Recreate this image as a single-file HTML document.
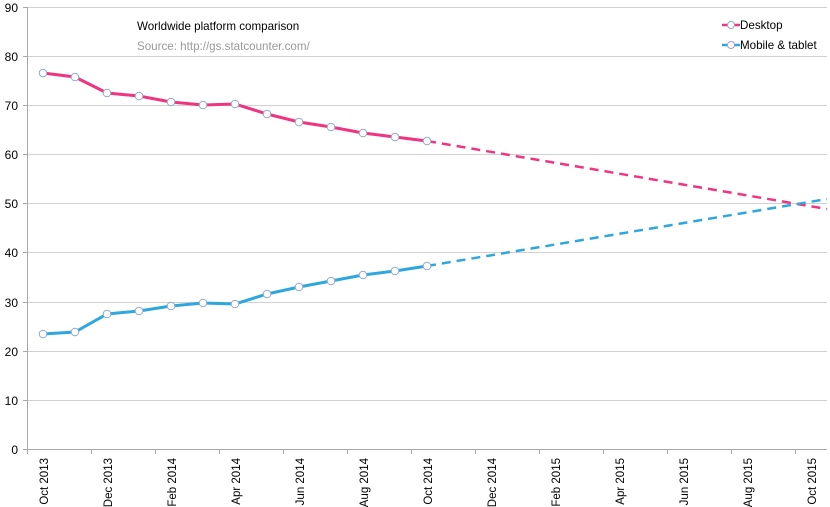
<!DOCTYPE html>
<html><head><style>body{margin:0;background:#fff}svg{display:block}text{font-family:"Liberation Sans",sans-serif}</style></head>
<body>
<svg width="830" height="507" viewBox="0 0 830 507" xmlns="http://www.w3.org/2000/svg">
<g stroke="#d0d0d0" stroke-width="1">
<line x1="27" y1="7.5" x2="827" y2="7.5"/><line x1="27" y1="56.5" x2="827" y2="56.5"/><line x1="27" y1="105.5" x2="827" y2="105.5"/><line x1="27" y1="154.5" x2="827" y2="154.5"/><line x1="27" y1="203.5" x2="827" y2="203.5"/><line x1="27" y1="252.5" x2="827" y2="252.5"/><line x1="27" y1="302.5" x2="827" y2="302.5"/><line x1="27" y1="351.5" x2="827" y2="351.5"/><line x1="27" y1="400.5" x2="827" y2="400.5"/>
</g>
<g stroke="#a8a8a8" stroke-width="1">
<line x1="27.5" y1="7" x2="27.5" y2="449"/><line x1="27" y1="449.5" x2="827" y2="449.5"/>
<line x1="23" y1="7.5" x2="27" y2="7.5"/><line x1="23" y1="56.5" x2="27" y2="56.5"/><line x1="23" y1="105.5" x2="27" y2="105.5"/><line x1="23" y1="154.5" x2="27" y2="154.5"/><line x1="23" y1="203.5" x2="27" y2="203.5"/><line x1="23" y1="252.5" x2="27" y2="252.5"/><line x1="23" y1="302.5" x2="27" y2="302.5"/><line x1="23" y1="351.5" x2="27" y2="351.5"/><line x1="23" y1="400.5" x2="27" y2="400.5"/><line x1="23" y1="449.5" x2="27" y2="449.5"/>
<line x1="27.5" y1="449" x2="27.5" y2="454"/><line x1="91.5" y1="449" x2="91.5" y2="454"/><line x1="155.5" y1="449" x2="155.5" y2="454"/><line x1="219.5" y1="449" x2="219.5" y2="454"/><line x1="283.5" y1="449" x2="283.5" y2="454"/><line x1="347.5" y1="449" x2="347.5" y2="454"/><line x1="411.5" y1="449" x2="411.5" y2="454"/><line x1="475.5" y1="449" x2="475.5" y2="454"/><line x1="539.5" y1="449" x2="539.5" y2="454"/><line x1="603.5" y1="449" x2="603.5" y2="454"/><line x1="667.5" y1="449" x2="667.5" y2="454"/><line x1="731.5" y1="449" x2="731.5" y2="454"/><line x1="795.5" y1="449" x2="795.5" y2="454"/>
</g>
<g font-size="12" fill="#000" text-anchor="end">
<text x="18" y="12">90</text><text x="18" y="61">80</text><text x="18" y="110">70</text><text x="18" y="159">60</text><text x="18" y="208">50</text><text x="18" y="257">40</text><text x="18" y="307">30</text><text x="18" y="356">20</text><text x="18" y="405">10</text><text x="18" y="454">0</text>
</g>
<g font-size="11.5" fill="#000" text-anchor="end">
<text transform="translate(48,458) rotate(-90)">Oct 2013</text>
<text transform="translate(112,458) rotate(-90)">Dec 2013</text>
<text transform="translate(176,458) rotate(-90)">Feb 2014</text>
<text transform="translate(240,458) rotate(-90)">Apr 2014</text>
<text transform="translate(304,458) rotate(-90)">Jun 2014</text>
<text transform="translate(368,458) rotate(-90)">Aug 2014</text>
<text transform="translate(432,458) rotate(-90)">Oct 2014</text>
<text transform="translate(496,458) rotate(-90)">Dec 2014</text>
<text transform="translate(560,458) rotate(-90)">Feb 2015</text>
<text transform="translate(624,458) rotate(-90)">Apr 2015</text>
<text transform="translate(688,458) rotate(-90)">Jun 2015</text>
<text transform="translate(752,458) rotate(-90)">Aug 2015</text>
<text transform="translate(816,458) rotate(-90)">Oct 2015</text>
</g>
<text x="137" y="30" font-size="11.6" fill="#000">Worldwide platform comparison</text>
<text x="137" y="50" font-size="11.6" fill="#999">Source: http://gs.statcounter.com/</text>
<line x1="427" y1="141" x2="827" y2="209" stroke="#f0347f" stroke-width="2.5" stroke-dasharray="9,6"/>
<line x1="427" y1="266" x2="827" y2="199" stroke="#2ea7df" stroke-width="2.5" stroke-dasharray="9,6"/>
<polyline fill="none" stroke="#f0347f" stroke-width="3" points="43,73 75,77 107,93 139,96 171,102 203,105 235,104 267,114 299,122 331,127 363,133 395,137 427,141"/>
<polyline fill="none" stroke="#2ea7df" stroke-width="3" points="43,334 75,332 107,314 139,311 171,306 203,303 235,304 267,294 299,287 331,281 363,275 395,271 427,266"/>
<g fill="#fff" stroke="#8fa8cf" stroke-width="1">
<circle cx="43" cy="73" r="3.8"/><circle cx="75" cy="77" r="3.8"/><circle cx="107" cy="93" r="3.8"/><circle cx="139" cy="96" r="3.8"/><circle cx="171" cy="102" r="3.8"/><circle cx="203" cy="105" r="3.8"/><circle cx="235" cy="104" r="3.8"/><circle cx="267" cy="114" r="3.8"/><circle cx="299" cy="122" r="3.8"/><circle cx="331" cy="127" r="3.8"/><circle cx="363" cy="133" r="3.8"/><circle cx="395" cy="137" r="3.8"/><circle cx="427" cy="141" r="3.8"/>
<circle cx="43" cy="334" r="3.8"/><circle cx="75" cy="332" r="3.8"/><circle cx="107" cy="314" r="3.8"/><circle cx="139" cy="311" r="3.8"/><circle cx="171" cy="306" r="3.8"/><circle cx="203" cy="303" r="3.8"/><circle cx="235" cy="304" r="3.8"/><circle cx="267" cy="294" r="3.8"/><circle cx="299" cy="287" r="3.8"/><circle cx="331" cy="281" r="3.8"/><circle cx="363" cy="275" r="3.8"/><circle cx="395" cy="271" r="3.8"/><circle cx="427" cy="266" r="3.8"/>
</g>
<line x1="722" y1="25" x2="740" y2="25" stroke="#f0347f" stroke-width="2.5"/>
<circle cx="731" cy="25" r="3.5" fill="#fff" stroke="#8fa8cf"/>
<text x="740" y="29" font-size="11.6" fill="#000">Desktop</text>
<line x1="722" y1="45" x2="740" y2="45" stroke="#2ea7df" stroke-width="2.5"/>
<circle cx="731" cy="45" r="3.5" fill="#fff" stroke="#a89ad0"/>
<text x="740" y="49" font-size="11.6" fill="#000">Mobile &amp; tablet</text>
</svg>
</body></html>
